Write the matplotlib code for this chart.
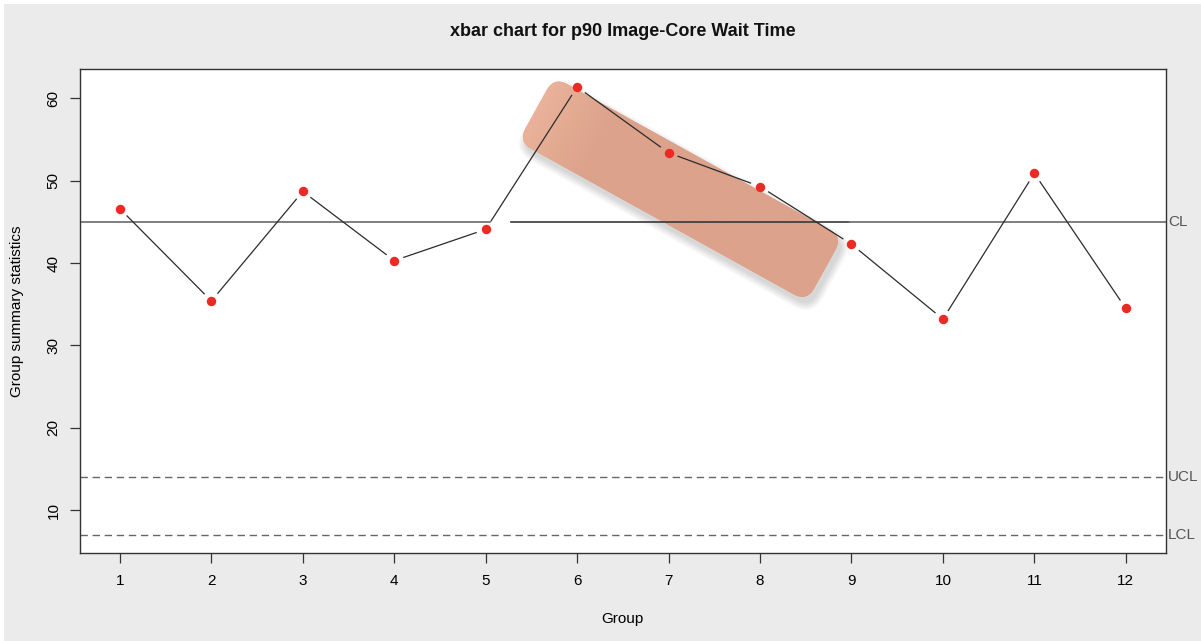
import numpy as np
import matplotlib
matplotlib.use("Agg")
import matplotlib.pyplot as plt
from matplotlib.patches import FancyBboxPatch, Rectangle
from matplotlib.transforms import Affine2D, blended_transform_factory
from matplotlib.colors import to_rgb

# ---- data -------------------------------------------------------------
groups = np.arange(1, 13)
group_means = [46.6, 35.4, 48.7, 40.3, 44.1, 61.4, 53.4, 49.3, 42.3, 33.2, 50.9, 34.5]
center_line = 45.0
upper_limit = 14.0
lower_limit = 7.0
limit_labels = ["CL", "UCL", "LCL"]
x_ticks = list(range(1, 13))
y_ticks = [10, 20, 30, 40, 50, 60]

title = "xbar chart for p90 Image-Core Wait Time"
x_label = "Group"
y_label = "Group summary statistics"

# ---- style ------------------------------------------------------------
plt.rcParams["font.family"] = ["Liberation Sans", "DejaVu Sans"]
plt.rcParams["lines.scale_dashes"] = False

W_PX, H_PX, DPI = 1201, 641, 100
BG = "#EBEBEB"
POINT_RED = "#EC2A24"
LINE_DARK = "#2b2b2b"
CL_GRAY = "#6a6a6a"
LIMIT_GRAY = "#666666"
TEXT_GRAY = "#555555"

fig = plt.figure(figsize=(W_PX / DPI, H_PX / DPI), dpi=DPI, facecolor=BG)
# thin white border along the top and left edges
fig.patches.append(Rectangle((0, 1 - 4 / H_PX), 1, 4 / H_PX, transform=fig.transFigure,
                             facecolor="white", edgecolor="none", zorder=0))
fig.patches.append(Rectangle((0, 0), 4 / W_PX, 1, transform=fig.transFigure,
                             facecolor="white", edgecolor="none", zorder=0))

ax_left, ax_right, ax_top, ax_bottom = 79.7, 1166.0, 69.0, 552.7
ax = fig.add_axes([ax_left / W_PX, (H_PX - ax_bottom) / H_PX,
                   (ax_right - ax_left) / W_PX, (ax_bottom - ax_top) / H_PX])
ax.set_facecolor("white")

# R-style 4% padding around the data range
x_lo, x_hi = groups.min(), groups.max()
x_pad = 0.04 * (x_hi - x_lo)
y_all = list(group_means) + [center_line, upper_limit, lower_limit]
y_lo, y_hi = min(y_all), max(y_all)
y_pad = 0.04 * (y_hi - y_lo)
XLIM = (x_lo - x_pad, x_hi + x_pad)
YLIM = (y_lo - y_pad, y_hi + y_pad)
ax.set_xlim(*XLIM)
ax.set_ylim(*YLIM)
ax.set_autoscale_on(False)

for s in ax.spines.values():
    s.set_color("#333333")
    s.set_linewidth(1.0)

ax.set_xticks(x_ticks)
ax.set_xticklabels([str(t) for t in x_ticks], fontsize=11)
ax.set_yticks(y_ticks)
ax.set_yticklabels([str(t) for t in y_ticks], fontsize=11, rotation=90, va="center")
ax.tick_params(axis="both", direction="out", length=7.2, width=0.9, color="#333333")
ax.tick_params(axis="x", pad=8)
ax.tick_params(axis="y", pad=6.5)

# ---- highlight callout over the run of groups 6-8 --------------------
hl_center = ax.transData.transform((7.13, 48.97))
hl_len, hl_wid, hl_rad, hl_angle = 330, 74, 15, -29


def callout_box(length, width, radius, dx=0.0, dy=0.0, **kw):
    tr = Affine2D().rotate_deg(hl_angle).translate(hl_center[0] + dx, hl_center[1] + dy)
    return FancyBboxPatch((-length / 2 + radius, -width / 2 + radius),
                          length - 2 * radius, width - 2 * radius,
                          boxstyle=f"round,pad={radius}", transform=tr, **kw)


# soft drop shadow
for grow in np.linspace(7, 0, 8):
    ax.add_patch(callout_box(hl_len + 2 * grow, hl_wid + 2 * grow, hl_rad + grow,
                             dx=3, dy=-6, facecolor="black", edgecolor="none",
                             alpha=0.018, zorder=1))

box = callout_box(hl_len, hl_wid, hl_rad, facecolor="#DCA28B", edgecolor="none", zorder=1.1)
ax.add_patch(box)

light = np.array(to_rgb("#EAB29A"))
base = np.array(to_rgb("#DCA28B"))
t = np.clip(np.linspace(0, 1, 256) / 0.22, 0, 1)
grad = (light[None, :] * (1 - t[:, None]) + base[None, :] * t[:, None])[None, :, :]
img = ax.imshow(grad, extent=(-hl_len / 2, hl_len / 2, -hl_wid / 2, hl_wid / 2),
                transform=Affine2D().rotate_deg(hl_angle).translate(*hl_center),
                aspect="auto", interpolation="bilinear", zorder=1.2)
img.set_clip_path(box)
ax.set_xlim(*XLIM)
ax.set_ylim(*YLIM)

# ---- control lines ---------------------------------------------------
ax.plot([XLIM[0], 5.05], [center_line] * 2, color=CL_GRAY, lw=1.2, zorder=2)
ax.plot([5.28, 8.97], [center_line] * 2, color="#383838", lw=1.2, zorder=2)
ax.plot([8.97, XLIM[1]], [center_line] * 2, color=CL_GRAY, lw=1.2, zorder=2)
for val in (upper_limit, lower_limit):
    ax.plot(XLIM, [val, val], color=LIMIT_GRAY, lw=1.0, dashes=(5.3, 3.4), zorder=2)

label_tr = blended_transform_factory(ax.transAxes, ax.transData)
for lbl, val in zip(limit_labels, (center_line, upper_limit, lower_limit)):
    ax.annotate(lbl, xy=(1, val), xycoords=label_tr, xytext=(1.5, 0),
                textcoords="offset points", ha="left", va="center",
                fontsize=11, color=TEXT_GRAY, annotation_clip=False)

# ---- group means: segments with gaps around each point ----------------
pts = ax.transData.transform(np.column_stack([groups, group_means]))
gap = 9.5
inv = ax.transData.inverted()
for p0, p1 in zip(pts[:-1], pts[1:]):
    d = p1 - p0
    u = d / np.hypot(*d)
    a, b = inv.transform(np.vstack([p0 + gap * u, p1 - gap * u]))
    ax.plot([a[0], b[0]], [a[1], b[1]], color=LINE_DARK, lw=0.9, zorder=3,
            solid_capstyle="butt")
ax.plot(groups, group_means, linestyle="none", marker="o", ms=6.8,
        mfc=POINT_RED, mec="none", zorder=4, clip_on=False)

# ---- labels ------------------------------------------------------------
ax_cx = (ax_left + ax_right) / 2
fig.text(ax_cx / W_PX, 1 - 32 / H_PX, title, ha="center", va="center",
         fontsize=13, fontweight="bold", color="#111111")
fig.text(ax_cx / W_PX, 1 - 619 / H_PX, x_label, ha="center", va="center", fontsize=11)
fig.text(17 / W_PX, 1 - (ax_top + ax_bottom) / 2 / H_PX, y_label, ha="center",
         va="center", rotation=90, fontsize=11)

fig.savefig("out.png", dpi=DPI, facecolor=BG)
